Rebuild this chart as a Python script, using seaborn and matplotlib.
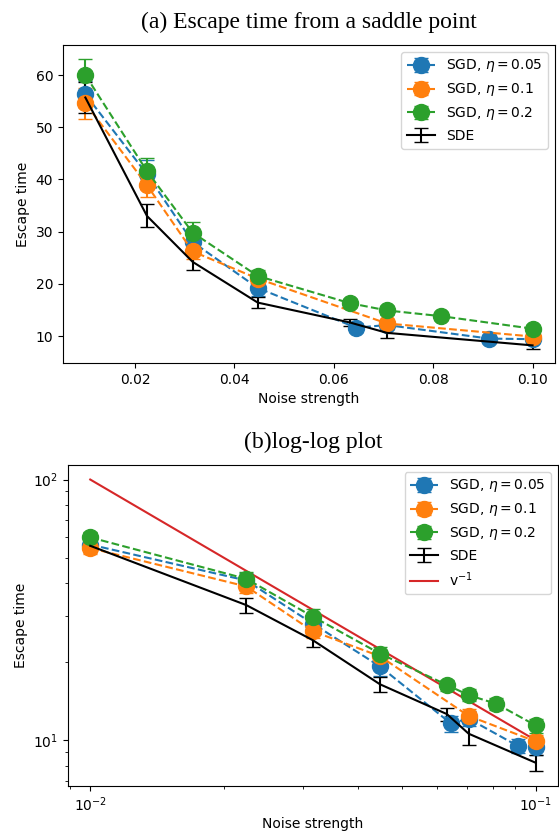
#Libraries
import pandas as pd
import seaborn as sns
import matplotlib
matplotlib.use('Agg')
import matplotlib.pyplot as plt

#Data
blue_x = [0.01, 0.0224, 0.0316, 0.0447, 0.0645, 0.0707, 0.0913, 0.1]
blue_y = [56.3, 41.0, 28.0, 19.2, 11.6, 12.1, 9.5, 9.4]
blue_err = [2.5, 2.8, 2.0, 1.5, 0.8, 0.8, 0.6, 0.6]

orange_x = [0.01, 0.0224, 0.0316, 0.0447, 0.0707, 0.1]
orange_y = [54.6, 38.9, 26.2, 21.0, 12.4, 9.9]
orange_err = [3.0, 2.3, 1.5, 1.2, 0.8, 0.6]

green_x = [0.01, 0.0224, 0.0316, 0.0447, 0.0632, 0.0707, 0.0816, 0.1]
green_y = [60.0, 41.6, 29.8, 21.5, 16.3, 14.9, 13.8, 11.4]
green_err = [3.0, 2.5, 2.0, 1.2, 0.8, 0.8, 0.7, 0.7]

sde_x = [0.01, 0.0224, 0.0316, 0.0447, 0.0632, 0.0707, 0.1]
sde_y = [55.7, 33.0, 24.2, 16.4, 12.6, 10.6, 8.2]
sde_err = [3.0, 2.2, 1.5, 1.1, 0.7, 1.0, 0.6]

ref_x = [0.01, 0.1]
ref_y = [100, 10]

labels = ['SGD, $\\eta=0.05$', 'SGD, $\\eta=0.1$', 'SGD, $\\eta=0.2$']

pal = sns.color_palette('tab10')
sgd = [(blue_x, blue_y, blue_err), (orange_x, orange_y, orange_err), (green_x, green_y, green_err)]

fig = plt.figure(figsize=(5.59, 8.31), dpi=100)
ax1 = fig.add_axes([0.1127, 0.5632, 0.880, 0.3827])
ax2 = fig.add_axes([0.1216, 0.0542, 0.8766, 0.3863])


def draw(ax, loglog=False):
    handles = []
    for (x, y, e), lab, c in zip(sgd, labels, pal[:3]):
        h = ax.errorbar(x, y, yerr=e, fmt='o--', color=c, markersize=11.5, capsize=5, label=lab)
        handles.append(h)
    h = ax.errorbar(sde_x, sde_y, yerr=sde_err, fmt='-', color='black', capsize=5, label='SDE')
    handles.append(h)
    if loglog:
        df = pd.DataFrame({'x': ref_x, 'y': ref_y})
        sns.lineplot(data=df, x='x', y='y', ax=ax, color=pal[3], label='v$^{-1}$', legend=False)
        handles.append(ax.get_lines()[-1])
        ax.set_xscale('log')
        ax.set_yscale('log')
    ax.set_xlabel('Noise strength', labelpad=2 if loglog else 4)
    ax.set_ylabel('Escape time')
    ax.legend(handles=handles, labels=[hh.get_label() for hh in handles], loc='upper right')


draw(ax1)
ax1.set_title('(a) Escape time from a saddle point', family='Liberation Serif', fontsize=17, pad=12)
draw(ax2, loglog=True)
ax2.set_title('(b)log-log plot', family='Liberation Serif', fontsize=17, pad=12)

fig.savefig('out.png', dpi=100)
